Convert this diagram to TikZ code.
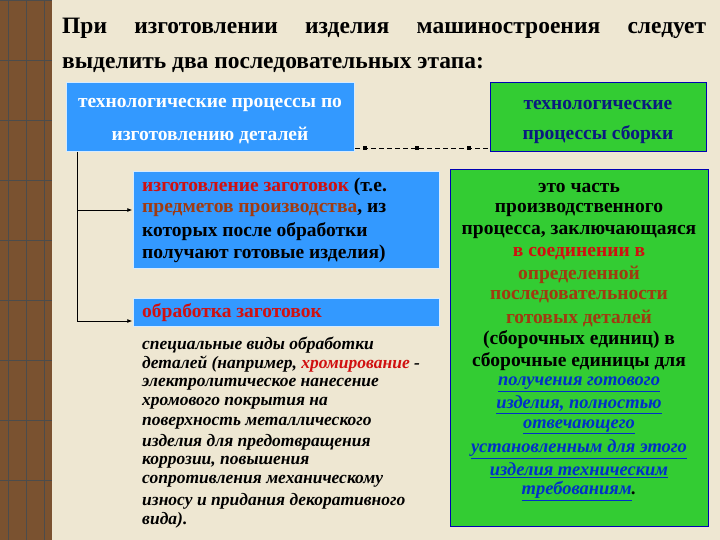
\documentclass[tikz,border=0pt]{standalone}
\usepackage{fontspec}
\setmainfont{Liberation Serif}
\usetikzlibrary{arrows.meta}
\usepackage{xcolor}
\definecolor{bg}{HTML}{EEE7D2}
\definecolor{wood}{HTML}{7A5230}
\definecolor{bbox}{HTML}{3399FF}
\definecolor{gbox}{HTML}{33CC33}
\definecolor{rtxt}{HTML}{D01010}
\definecolor{btxt}{HTML}{A03A10}
\definecolor{ltxt}{HTML}{0030C8}
\definecolor{dtxt}{HTML}{0A1A80}
\newcommand{\bfs}{\bfseries\fontsize{19.5}{22}\selectfont}
\begin{document}
\begin{tikzpicture}[x=1pt,y=-1pt,
  bluebox/.style={fill=bbox,draw=white!80!bbox,line width=1pt},
  greenbox/.style={fill=gbox,draw=blue!70!black,line width=1pt},
  lbl/.style={inner sep=0pt,font=\bfs},
  conn/.style={line width=0.8pt,-{Latex[length=5pt,width=4pt]}}]
\useasboundingbox (0,0) rectangle (720,540);
\fill[bg] (0,0) rectangle (720,540);
\fill[wood] (0,0) rectangle (52,540);
\foreach \y in {0,60,...,540} \draw[black!70,line width=0.8pt] (0,\y) -- (52,\y);
\foreach \x in {8,26,44} \draw[black!70,line width=0.8pt] (\x,0) -- (\x,540);
% title
\node[lbl,anchor=west,font=\bfseries\fontsize{23.5}{26}\selectfont] (t1) at (62,28)
  {\hbox to 644pt{При\hfill изготовлении\hfill изделия\hfill машиностроения\hfill следует}};
\node[lbl,anchor=west,font=\bfseries\fontsize{23.5}{26}\selectfont] (t2) at (62,65) {выделить два последовательных этапа:};
% top boxes
\draw[bluebox] (66,83) rectangle (354,152);
\node (A) at (210,117.5) [minimum width=288pt,minimum height=69pt] {};
\node[lbl,white] (a1) at (210,105) {технологические процессы по};
\node[lbl,white] (a2) at (210,135) {изготовлению деталей};
\draw[greenbox] (490,83) rectangle (706,152);
\node (B) at (598,117.5) [minimum width=216pt,minimum height=69pt] {};
\node[lbl,dtxt] (b1) at (598,105) {технологические};
\node[lbl,dtxt] (b2) at (598,135) {процессы сборки};
\coordinate (ca) at (355,148); \coordinate (cb) at (490,148);
\draw[line width=0.8pt,dash pattern=on 5pt off 3pt] (ca) -- (cb);
\foreach \x in {365,417,469} \fill (\x-2,146) rectangle (\x+2,150);
% C box
\draw[bluebox] (133,172) rectangle (439,268);
\node (C) at (133,210) [inner sep=0pt] {};
\begin{scope}[every node/.style={lbl,anchor=west}]
\node (c1) at (142,187) {\textcolor{rtxt}{изготовление заготовок} (т.е.};
\node (c2) at (142,210) {\textcolor{btxt}{предметов производства}, из};
\node (c3) at (142,232) {которых после обработки};
\node (c4) at (142,254) {получают готовые изделия)};
\end{scope}
\draw[bluebox] (133,298) rectangle (439,326);
\node (D) at (133,321) [inner sep=0pt] {};
\node[lbl,anchor=west,rtxt] (d1) at (142,313) {обработка заготовок};
\coordinate (v) at (77,152);
\draw[line width=0.8pt] (v) -- (77,321);
\draw[conn] (77,210) -- (C);
\draw[conn] (77,321) -- (D);
% italic text
\begin{scope}[every node/.style={lbl,anchor=west,font=\bfseries\itshape\fontsize{17.5}{19}\selectfont}]
\node (i1) at (142,345) {специальные виды обработки};
\node (i2) at (142,364.5) {деталей (например, \textcolor{rtxt}{хромирование} -};
\node (i3) at (142,384) {электролитическое нанесение};
\node (i4) at (142,403.5) {хромового покрытия на};
\node (i5) at (142,423) {поверхность металлического};
\node (i6) at (142,442.5) {изделия для предотвращения};
\node (i7) at (142,462) {коррозии, повышения};
\node (i8) at (142,481.5) {сопротивления механическому};
\node (i9) at (142,501) {износу и придания декоративного};
\node (i10) at (142,520) {вида).};
\end{scope}
% E box
\draw[greenbox] (450,170) rectangle (708,526);
\begin{scope}[every node/.style={lbl}]
\node (e1) at (579,188) {это часть};
\node (e2) at (579,210) {производственного};
\node (e3) at (579,232) {процесса, заключающаяся};
\node[rtxt] (e4) at (579,253.5) {в соединении в};
\node[btxt] (e5) at (579,275) {определенной};
\node[btxt] (e6) at (579,297) {последовательности};
\node[btxt] (e7) at (579,318.5) {готовых деталей};
\node (e8) at (579,340) {(сборочных единиц) в};
\node (e9) at (579,362) {сборочные единицы для};
\end{scope}
\begin{scope}[every node/.style={lbl,ltxt,font=\bfseries\itshape\fontsize{18.5}{20}\selectfont}]
\node (e10) at (579,384) {\underline{получения готового}};
\node (e11) at (579,405) {\underline{изделия, полностью}};
\node (e12) at (579,427) {\underline{отвечающего}};
\node (e13) at (579,449) {\underline{установленным для этого}};
\node (e14) at (579,470) {\underline{изделия техническим}};
\node (e15) at (579,491) {\underline{требованиям}\textcolor{black}{.}};
\end{scope}
\end{tikzpicture}
\end{document}
